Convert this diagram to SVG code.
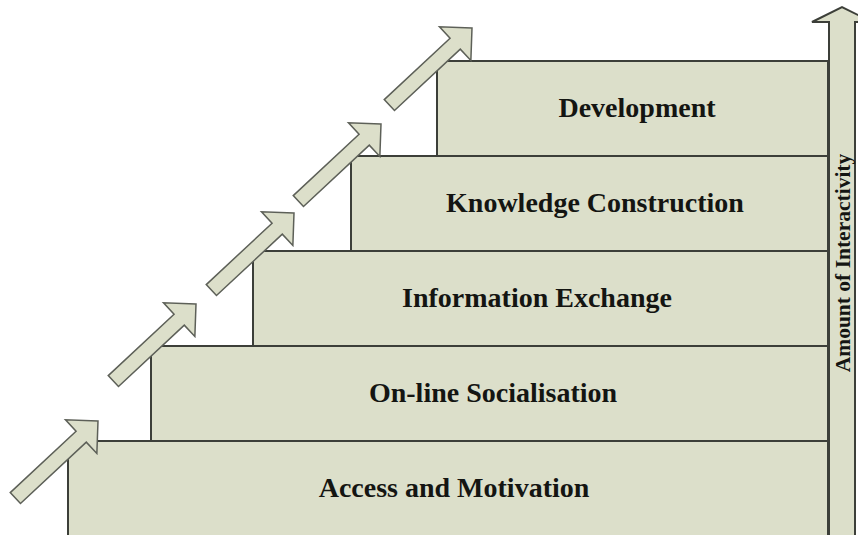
<svg xmlns="http://www.w3.org/2000/svg" width="858" height="535" viewBox="0 0 858 535">
<style>
.step{fill:#dcdfca;stroke:#3c3f39;stroke-width:2}
.lbl{font-family:"Liberation Serif","Times New Roman",serif;font-weight:bold;font-size:28px;fill:#141512;text-anchor:middle}
.arr{fill:#dcdfca;stroke:#5d6058;stroke-width:1.5;stroke-linejoin:miter}
.vax{fill:#dcdfca;stroke:#3c3f39;stroke-width:2}
</style>
<defs>
<path id="diag" d="M0,0 L-23,-23 L-23,-7.5 L-113,-7.5 L-113,7.5 L-23,7.5 L-23,23 Z"/>
</defs>
<rect width="858" height="535" fill="#ffffff"/>
<g id="step1"><rect class="step" x="68" y="441" width="760" height="100"/><text class="lbl" x="454" y="497">Access and Motivation</text></g>
<g id="step2"><rect class="step" x="151" y="346" width="677" height="95"/><text class="lbl" x="493" y="402">On-line Socialisation</text></g>
<g id="step3"><rect class="step" x="253" y="251" width="575" height="95"/><text class="lbl" x="537" y="307">Information Exchange</text></g>
<g id="step4"><rect class="step" x="351" y="156" width="477" height="95"/><text class="lbl" x="595" y="212">Knowledge Construction</text></g>
<g id="step5"><rect class="step" x="437" y="61" width="391" height="95"/><text class="lbl" x="637" y="117">Development</text></g>
<g id="connectors">
<use href="#diag" class="arr" transform="translate(98,421) rotate(-43)"/>
<use href="#diag" class="arr" transform="translate(196,304) rotate(-43)"/>
<use href="#diag" class="arr" transform="translate(294,213) rotate(-43)"/>
<use href="#diag" class="arr" transform="translate(381,124) rotate(-43)"/>
<use href="#diag" class="arr" transform="translate(472,28) rotate(-43)"/>
</g>
<g id="axis">
<path class="vax" d="M829,545 L829,22 L812,22 L842,7 L872,22 L855,22 L855,545 Z"/>
<text transform="translate(849.5,263) rotate(-90)" style="font-family:'Liberation Serif','Times New Roman',serif;font-weight:bold;font-size:21.5px;fill:#141512;text-anchor:middle">Amount of Interactivity</text>
</g>
</svg>
